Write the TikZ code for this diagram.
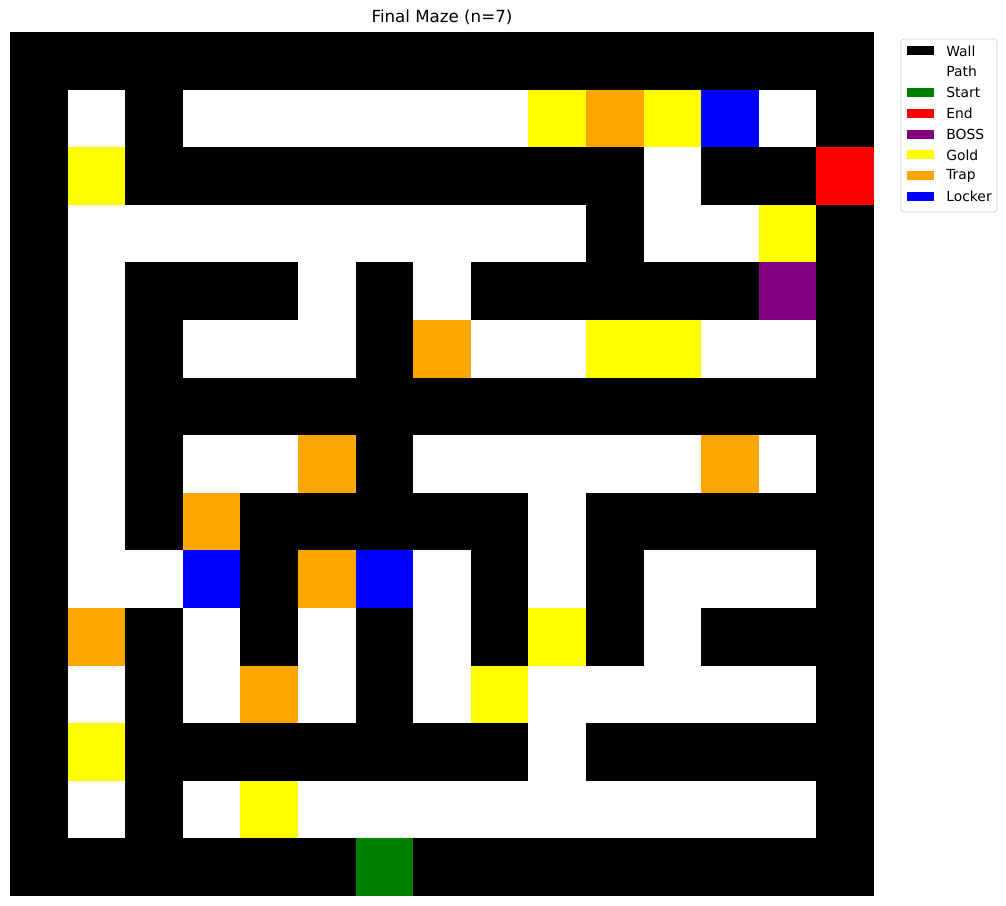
\documentclass[tikz,border=0pt]{standalone}
\usepackage{fontspec}
\setmainfont{DejaVu Sans}
\definecolor{mzW}{HTML}{000000}
\definecolor{mzP}{HTML}{FFFFFF}
\definecolor{mzS}{HTML}{008000}
\definecolor{mzE}{HTML}{FF0000}
\definecolor{mzB}{HTML}{800080}
\definecolor{mzG}{HTML}{FFFF00}
\definecolor{mzT}{HTML}{FFA500}
\definecolor{mzL}{HTML}{0000FF}

\begin{document}
\begin{tikzpicture}[x=0.72pt,y=-0.72pt,every node/.style={font=\fontsize{10}{12}\selectfont,inner sep=0pt}]
\useasboundingbox (0,0) rectangle (1006,906);
\node (title) at (442,17) {\fontsize{12}{14}\selectfont Final Maze (n=7)};
% maze cells, row by row
\foreach \line [count=\r from 0] in {
  {W,W,W,W,W,W,W,W,W,W,W,W,W,W,W},
  {W,P,W,P,P,P,P,P,P,G,T,G,L,P,W},
  {W,G,W,W,W,W,W,W,W,W,W,P,W,W,E},
  {W,P,P,P,P,P,P,P,P,P,W,P,P,G,W},
  {W,P,W,W,W,P,W,P,W,W,W,W,W,B,W},
  {W,P,W,P,P,P,W,T,P,P,G,G,P,P,W},
  {W,P,W,W,W,W,W,W,W,W,W,W,W,W,W},
  {W,P,W,P,P,T,W,P,P,P,P,P,T,P,W},
  {W,P,W,T,W,W,W,W,W,P,W,W,W,W,W},
  {W,P,P,L,W,T,L,P,W,P,W,P,P,P,W},
  {W,T,W,P,W,P,W,P,W,G,W,P,W,W,W},
  {W,P,W,P,T,P,W,P,G,P,P,P,P,P,W},
  {W,G,W,W,W,W,W,W,W,P,W,W,W,W,W},
  {W,P,W,P,G,P,P,P,P,P,P,P,P,P,W},
  {W,W,W,W,W,W,S,W,W,W,W,W,W,W,W}} {
  \foreach \c [count=\k from 0] in \line
    \fill[mz\c] ({10+57.6*\k},{32+57.6*\r}) rectangle ++(57.9,57.9);
}
% legend
\draw[black!20,fill=white,rounded corners=2pt] (901,39) rectangle (997,212);
\foreach \name/\col [count=\i from 0] in {Wall/mzW,Path/mzP,Start/mzS,End/mzE,BOSS/mzB,Gold/mzG,Trap/mzT,Locker/mzL} {
  \fill[\col] (907,{46.5+20.8*\i}) rectangle ++(27,9);
  \node[anchor=west] (leg\i) at (946,{51+20.8*\i}) {\name};
}
\end{tikzpicture}
\end{document}
